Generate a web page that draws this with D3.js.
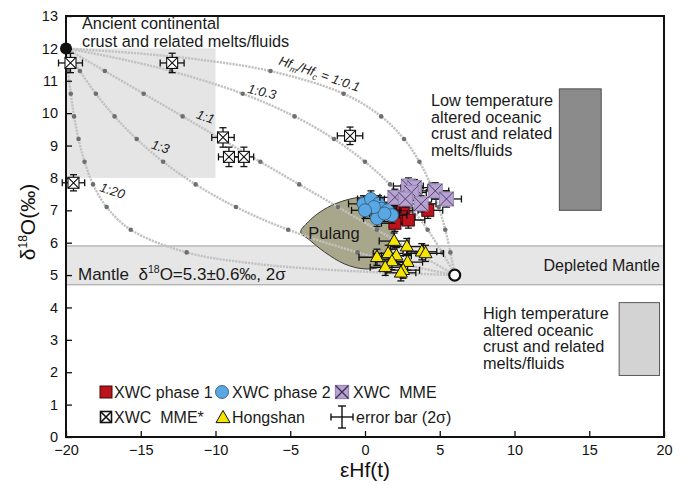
<!DOCTYPE html>
<html>
<head>
<meta charset="utf-8">
<script src="https://cdn.jsdelivr.net/npm/d3@7"></script>
<style>
  html, body { margin: 0; padding: 0; background: #fff; }
  svg { display: block; font-family: "Liberation Sans", Arial, Helvetica, sans-serif; }
  text { white-space: pre; }
</style>
</head>
<body>
<svg id="chart" width="686" height="485"></svg>
<script>
// ---------------- data ----------------
const hfTicks = [-20, -15, -10, -5, 0, 5, 10, 15, 20];
const o18Ticks = [0, 1, 2, 3, 4, 5, 6, 7, 8, 9, 10, 11, 12, 13];

// XWC phase 1 (zircon εHf(t), δ18O, 2σ errors)
const phase1Hf    = [2.0, 2.55, 2.45, 2.9, 2.0, 4.2, 1.9];
const phase1O     = [7.15, 7.0, 6.8, 6.7, 6.6, 7.0, 6.95];
const phase1HfErr = [0.9, 1.0, 0.9, 1.1, 0.9, 1.0, 0.9];
const phase1OErr  = [0.25, 0.25, 0.25, 0.25, 0.25, 0.25, 0.25];

// XWC phase 2
const phase2Hf    = [-0.1, 0.4, 0.9, 1.1, 1.5, 1.8, 0.8, 1.3, 0.6, 0.0];
const phase2O     = [7.2, 7.35, 7.2, 7.05, 7.0, 6.85, 6.75, 6.9, 7.1, 7.0];
const phase2HfErr = [1.0, 0.9, 1.0, 1.0, 0.9, 1.0, 0.9, 1.0, 1.0, 0.9];
const phase2OErr  = [0.25, 0.25, 0.25, 0.25, 0.25, 0.25, 0.25, 0.25, 0.25, 0.25];

// XWC MME
const mmeHf    = [2.0, 2.9, 3.3, 3.1, 2.7, 3.75, 4.7, 5.45];
const mmeO     = [7.4, 7.75, 7.7, 7.55, 7.35, 7.2, 7.6, 7.35];
const mmeHfErr = [1.0, 1.0, 0.9, 1.0, 1.0, 1.0, 0.9, 1.0];
const mmeOErr  = [0.25, 0.25, 0.25, 0.25, 0.25, 0.25, 0.25, 0.25];

// XWC MME* (inherited / xenocrystic zircon)
const mmeStarHf    = [-19.7, -12.9, -9.5, -9.1, -8.1, -19.5, -1.0];
const mmeStarO     = [11.55, 11.55, 9.25, 8.65, 8.65, 7.85, 9.3];
const mmeStarHfErr = [0.8, 0.8, 0.75, 0.7, 0.65, 0.75, 0.85];
const mmeStarOErr  = [0.3, 0.3, 0.3, 0.3, 0.3, 0.25, 0.27];

// Hongshan
const hongHf    = [1.95, 2.8, 3.8, 4.05, 0.8, 1.55, 2.1, 1.8, 2.85, 1.35, 2.55, 2.4];
const hongO     = [6.05, 5.88, 5.72, 5.67, 5.55, 5.67, 5.6, 5.42, 5.4, 5.24, 5.15, 5.07];
const hongHfErr = [1.0, 1.1, 1.0, 1.2, 1.2, 1.0, 1.0, 1.1, 1.0, 1.0, 1.1, 1.0];
const hongOErr  = [0.25, 0.25, 0.25, 0.25, 0.25, 0.25, 0.25, 0.25, 0.25, 0.25, 0.25, 0.25];

// Pulang field outline
const pulangHf = [-4.3, -3.8, -3.0, -2.0, -1.0, -0.2, 0.65, 1.45, 1.85, 1.95, 1.7, 1.15, 0.0, -1.35, -2.7, -3.7];
const pulangO  = [6.33, 6.64, 6.95, 7.2, 7.35, 7.41, 7.38, 7.16, 6.76, 6.24, 5.62, 5.28, 5.19, 5.34, 5.71, 6.08];

// Crust–mantle mixing curves: crust fraction, δ18O and εHf for each Hf_m/Hf_c ratio
const mixFrac   = [0, 0.02, 0.05, 0.1, 0.2, 0.3, 0.4, 0.5, 0.6, 0.7, 0.8, 0.9, 0.95, 0.98, 1];
const mixO18    = [5, 5.14, 5.35, 5.7, 6.4, 7.1, 7.8, 8.5, 9.2, 9.9, 10.6, 11.3, 11.65, 11.86, 12];
const mixHf_0_1 = [6, 5.95, 5.86, 5.71, 5.37, 4.93, 4.38, 3.64, 2.61, 1.08, -1.43, -6.32, -11.03, -15.59, -20];
const mixHf_0_3 = [6, 5.84, 5.6, 5.16, 4.19, 3.04, 1.67, 0.0, -2.07, -4.71, -8.18, -12.97, -16.12, -18.34, -20];
const mixHf_1   = [6, 5.48, 4.7, 3.4, 0.8, -1.8, -4.4, -7.0, -9.6, -12.2, -14.8, -17.4, -18.7, -19.48, -20];
const mixHf_3   = [6, 4.5, 2.45, -0.5, -5.14, -8.63, -11.33, -13.5, -15.27, -16.75, -18.0, -19.07, -19.55, -19.82, -20];
const mixHf_20  = [6, -1.54, -7.33, -11.93, -15.67, -17.28, -18.19, -18.76, -19.16, -19.46, -19.68, -19.86, -19.93, -19.97, -20];

// End members
const crustEnd  = [-20, 12];
const mantleEnd = [6, 5];

// Reference fields
const ancientHf  = [-20, -10];
const ancientO   = [8, 12];
const mantleO    = [4.7, 5.9];
const lowTempHf  = [13, 15.8];
const lowTempO   = [7, 10.75];
const highTempHf = [17, 19.7];
const highTempO  = [1.9, 4.15];

// ---------------- drawing ----------------
const svg = d3.select("#chart");
const x = d3.scaleLinear().domain([-20, 20]).range([66, 664]);
const y = d3.scaleLinear().domain([0, 13]).range([437, 16]);

svg.append("defs").append("clipPath").attr("id", "plot")
  .append("rect").attr("x", x(-20)).attr("y", y(13))
  .attr("width", x(20) - x(-20)).attr("height", y(0) - y(13));

const field = svg.append("g");

// ancient continental crust field
field.append("rect")
  .attr("x", x(ancientHf[0])).attr("y", y(ancientO[1]))
  .attr("width", x(ancientHf[1]) - x(ancientHf[0]))
  .attr("height", y(ancientO[0]) - y(ancientO[1]))
  .attr("fill", "#e5e5e5");

// mantle band
field.append("rect")
  .attr("x", x(-20)).attr("y", y(mantleO[1]))
  .attr("width", x(20) - x(-20)).attr("height", y(mantleO[0]) - y(mantleO[1]))
  .attr("fill", "#e6e6e6");
mantleO.forEach(v => field.append("line")
  .attr("x1", x(-20)).attr("x2", x(20)).attr("y1", y(v)).attr("y2", y(v))
  .attr("stroke", "#9c9c9c").attr("stroke-width", 1));

// low / high temperature altered oceanic crust
field.append("rect")
  .attr("x", x(lowTempHf[0])).attr("y", y(lowTempO[1]))
  .attr("width", x(lowTempHf[1]) - x(lowTempHf[0]))
  .attr("height", y(lowTempO[0]) - y(lowTempO[1]))
  .attr("fill", "#8b8b8b").attr("stroke", "#4d4d4d").attr("stroke-width", 1);
field.append("rect")
  .attr("x", x(highTempHf[0])).attr("y", y(highTempO[1]))
  .attr("width", x(highTempHf[1]) - x(highTempHf[0]))
  .attr("height", y(highTempO[0]) - y(highTempO[1]))
  .attr("fill", "#d3d3d3").attr("stroke", "#5a5a5a").attr("stroke-width", 1);

// Pulang field
const pulangPts = pulangHf.map((h, i) => [x(h), y(pulangO[i])]);
field.append("path")
  .attr("d", d3.line().curve(d3.curveCatmullRomClosed.alpha(0.5))(pulangPts))
  .attr("fill", "#a9a78b").attr("stroke", "#3a3a3a").attr("stroke-width", 1);

// mixing curves
const mixSets = [mixHf_0_1, mixHf_0_3, mixHf_1, mixHf_3, mixHf_20];
const mixLine = d3.line().curve(d3.curveCatmullRom.alpha(0.5));
const mixG = svg.append("g").attr("clip-path", "url(#plot)");
mixSets.forEach(hf => {
  const pts = hf.map((h, i) => [x(h), y(mixO18[i])]);
  mixG.append("path").attr("d", mixLine(pts))
    .attr("fill", "none").attr("stroke", "#c2c2c2")
    .attr("stroke-width", 2.4).attr("stroke-dasharray", "2.2 1");
});
mixSets.forEach(hf => {
  hf.forEach((h, i) => {
    const f = mixFrac[i];
    if (f >= 0.1 && f <= 0.9) {
      mixG.append("circle").attr("cx", x(h)).attr("cy", y(mixO18[i]))
        .attr("r", 2.3).attr("fill", "#6f6f6f");
    }
  });
});

// axes
const xAxis = d3.axisBottom(x).tickValues(hfTicks).tickSizeInner(-6).tickSizeOuter(0).tickPadding(8);
const yAxis = d3.axisLeft(y).tickValues(o18Ticks).tickSizeInner(-6).tickSizeOuter(0).tickPadding(8);
const gx = svg.append("g").attr("transform", `translate(0,${y(0)})`).call(xAxis);
const gy = svg.append("g").attr("transform", `translate(${x(-20)},0)`).call(yAxis);
[gx, gy].forEach(g => {
  g.select(".domain").remove();
  g.selectAll(".tick line").attr("stroke", "#111").attr("stroke-width", 1.3);
  g.selectAll(".tick text").attr("font-size", 14.5).attr("fill", "#111")
    .attr("font-family", "'Liberation Sans', Arial, sans-serif");
});

// frame
svg.append("rect")
  .attr("x", x(-20)).attr("y", y(13))
  .attr("width", x(20) - x(-20)).attr("height", y(0) - y(13))
  .attr("fill", "none").attr("stroke", "#111").attr("stroke-width", 2);

// axis titles
svg.append("text").attr("x", x(0)).attr("y", 477).attr("text-anchor", "middle")
  .attr("font-size", 21).attr("fill", "#111").text("εHf(t)");
const yt = svg.append("text").attr("transform", "translate(35,222) rotate(-90)")
  .attr("text-anchor", "middle").attr("font-size", 21).attr("fill", "#111");
yt.append("tspan").text("δ");
yt.append("tspan").attr("font-size", 12).attr("dy", -8).text("18");
yt.append("tspan").attr("dy", 8).text("O(‰)");

// field labels
function block(lines, px, py, lh, size, anchor) {
  const t = svg.append("text").attr("font-size", size).attr("fill", "#1a1a1a")
    .attr("text-anchor", anchor || "start");
  lines.forEach((s, i) => t.append("tspan").attr("x", px).attr("y", py + i * lh).text(s));
}
block(["Ancient continental", "crust and related melts/fluids"], 82, 29, 17.5, 16.3);
block(["Low temperature", "altered oceanic", "crust and related", "melts/fluids"], 431, 106, 16.5, 16.3);
block(["High temperature", "altered oceanic", "crust and related", "melts/fluids"], 483, 319, 16.5, 16.3);
block(["Depleted Mantle"], 660, 271, 0, 16, "end");

const mt = svg.append("text").attr("x", 78).attr("y", 280).attr("font-size", 17).attr("fill", "#1a1a1a");
mt.append("tspan").text("Mantle  δ");
mt.append("tspan").attr("font-size", 10.5).attr("dy", -7).text("18");
mt.append("tspan").attr("dy", 7).text("O=5.3±0.6‰, 2σ");

svg.append("text").attr("x", 334).attr("y", 239).attr("text-anchor", "middle")
  .attr("font-size", 16.5).attr("fill", "#1a1a1a").text("Pulang");

// mixing-ratio labels
function curveLabel(px, py, rot, build) {
  const t = svg.append("text").attr("transform", `translate(${px},${py}) rotate(${rot})`)
    .attr("font-size", 13).attr("font-style", "italic").attr("fill", "#222")
    .attr("text-anchor", "middle");
  build(t);
}
curveLabel(318, 78, 19, t => {
  t.append("tspan").text("Hf");
  t.append("tspan").attr("font-size", 8.5).attr("dy", 3).text("m");
  t.append("tspan").attr("dy", -3).text("/Hf");
  t.append("tspan").attr("font-size", 8.5).attr("dy", 3).text("c");
  t.append("tspan").attr("dy", -3).text(" = 1:0.1");
});
curveLabel(261, 96, 13, t => t.text("1:0.3"));
curveLabel(204, 121, 20, t => t.text("1:1"));
curveLabel(159, 151, 18, t => t.text("1:3"));
curveLabel(111, 195, 18, t => t.text("1:20"));

// data symbols
const pts = svg.append("g");
function errorBars(hf, o, he, oe) {
  hf.forEach((h, i) => {
    const cx = x(h), cy = y(o[i]);
    const x0 = x(h - he[i]), x1 = x(h + he[i]);
    const y0 = y(o[i] - oe[i]), y1 = y(o[i] + oe[i]);
    const g = pts.append("g").attr("stroke", "#111").attr("stroke-width", 1.3);
    g.append("line").attr("x1", x0).attr("x2", x1).attr("y1", cy).attr("y2", cy);
    g.append("line").attr("x1", x0).attr("x2", x0).attr("y1", cy - 3.5).attr("y2", cy + 3.5);
    g.append("line").attr("x1", x1).attr("x2", x1).attr("y1", cy - 3.5).attr("y2", cy + 3.5);
    g.append("line").attr("x1", cx).attr("x2", cx).attr("y1", y0).attr("y2", y1);
    g.append("line").attr("x1", cx - 3.5).attr("x2", cx + 3.5).attr("y1", y0).attr("y2", y0);
    g.append("line").attr("x1", cx - 3.5).attr("x2", cx + 3.5).attr("y1", y1).attr("y2", y1);
  });
}
function squareSym(g, cx, cy, s, fill, stroke) {
  g.append("rect").attr("x", cx - s / 2).attr("y", cy - s / 2).attr("width", s).attr("height", s)
    .attr("fill", fill).attr("stroke", stroke).attr("stroke-width", 1);
}
function crossBox(g, cx, cy, s, fill, stroke, xStroke, w) {
  g.append("rect").attr("x", cx - s / 2).attr("y", cy - s / 2).attr("width", s).attr("height", s)
    .attr("fill", fill).attr("stroke", stroke).attr("stroke-width", w);
  g.append("path").attr("d", `M${cx - s / 2},${cy - s / 2}L${cx + s / 2},${cy + s / 2}M${cx + s / 2},${cy - s / 2}L${cx - s / 2},${cy + s / 2}`)
    .attr("stroke", xStroke).attr("stroke-width", w);
}
function circleSym(g, cx, cy, r) {
  g.append("circle").attr("cx", cx).attr("cy", cy).attr("r", r)
    .attr("fill", "#5ba7e2").attr("stroke", "#2f5f86").attr("stroke-width", 0.9);
}
function triSym(g, cx, cy, s) {
  const h = s * 0.87;
  g.append("path").attr("d", `M${cx},${cy - h * 0.62}L${cx + s / 2},${cy + h * 0.38}L${cx - s / 2},${cy + h * 0.38}Z`)
    .attr("fill", "#f4e400").attr("stroke", "#111").attr("stroke-width", 1);
}

// MME*
errorBars(mmeStarHf, mmeStarO, mmeStarHfErr, mmeStarOErr);
mmeStarHf.forEach((h, i) => crossBox(pts, x(h), y(mmeStarO[i]), 11, "#fff", "#111", "#111", 1.1));

// Hongshan
errorBars(hongHf, hongO, hongHfErr, hongOErr);
hongHf.forEach((h, i) => triSym(pts, x(h), y(hongO[i]), 13));

// phase 1
errorBars(phase1Hf, phase1O, phase1HfErr, phase1OErr);
phase1Hf.forEach((h, i) => squareSym(pts, x(h), y(phase1O[i]), 12, "#bb121b", "#3a0a0a"));

// phase 2
errorBars(phase2Hf, phase2O, phase2HfErr, phase2OErr);
phase2Hf.forEach((h, i) => circleSym(pts, x(h), y(phase2O[i]), 6.5));

// MME
errorBars(mmeHf, mmeO, mmeHfErr, mmeOErr);
mmeHf.forEach((h, i) => crossBox(pts, x(h), y(mmeO[i]), 14, "#b7a3d3", "#9a88b6", "#4d3f62", 1));

// end members
svg.append("circle").attr("cx", x(crustEnd[0])).attr("cy", y(crustEnd[1])).attr("r", 6)
  .attr("fill", "#111");
svg.append("circle").attr("cx", x(mantleEnd[0])).attr("cy", y(mantleEnd[1])).attr("r", 5.5)
  .attr("fill", "#fff").attr("stroke", "#111").attr("stroke-width", 2.2);

// legend
const lg = svg.append("g");
const r1 = 392, r2 = 417;
squareSym(lg, 106, r1, 12, "#bb121b", "#3a0a0a");
circleSym(lg, 222, r1, 6.5);
crossBox(lg, 342, r1, 13, "#b7a3d3", "#9a88b6", "#3a2f4a", 1.3);
crossBox(lg, 106, r2, 11, "#fff", "#111", "#111", 1.6);
triSym(lg, 223, r2 + 1, 14);
const eg = lg.append("g").attr("stroke", "#111").attr("stroke-width", 1.4);
eg.append("line").attr("x1", 331).attr("x2", 353).attr("y1", r2).attr("y2", r2);
eg.append("line").attr("x1", 331).attr("x2", 331).attr("y1", r2 - 3.5).attr("y2", r2 + 3.5);
eg.append("line").attr("x1", 353).attr("x2", 353).attr("y1", r2 - 3.5).attr("y2", r2 + 3.5);
eg.append("line").attr("x1", 342).attr("x2", 342).attr("y1", r2 - 11).attr("y2", r2 + 11);
eg.append("line").attr("x1", 338).attr("x2", 346).attr("y1", r2 - 11).attr("y2", r2 - 11);
eg.append("line").attr("x1", 338).attr("x2", 346).attr("y1", r2 + 11).attr("y2", r2 + 11);
const legText = [
  [114, r1, "XWC phase 1"], [232, r1, "XWC phase 2"], [353, r1, "XWC  MME"],
  [114, r2, "XWC  MME*"], [232, r2, "Hongshan"], [356, r2, "error bar (2σ)"]
];
legText.forEach(([px, py, s]) => lg.append("text").attr("x", px).attr("y", py).attr("dy", "0.36em")
  .attr("font-size", 16).attr("fill", "#1a1a1a").text(s));
</script>
</body>
</html>
